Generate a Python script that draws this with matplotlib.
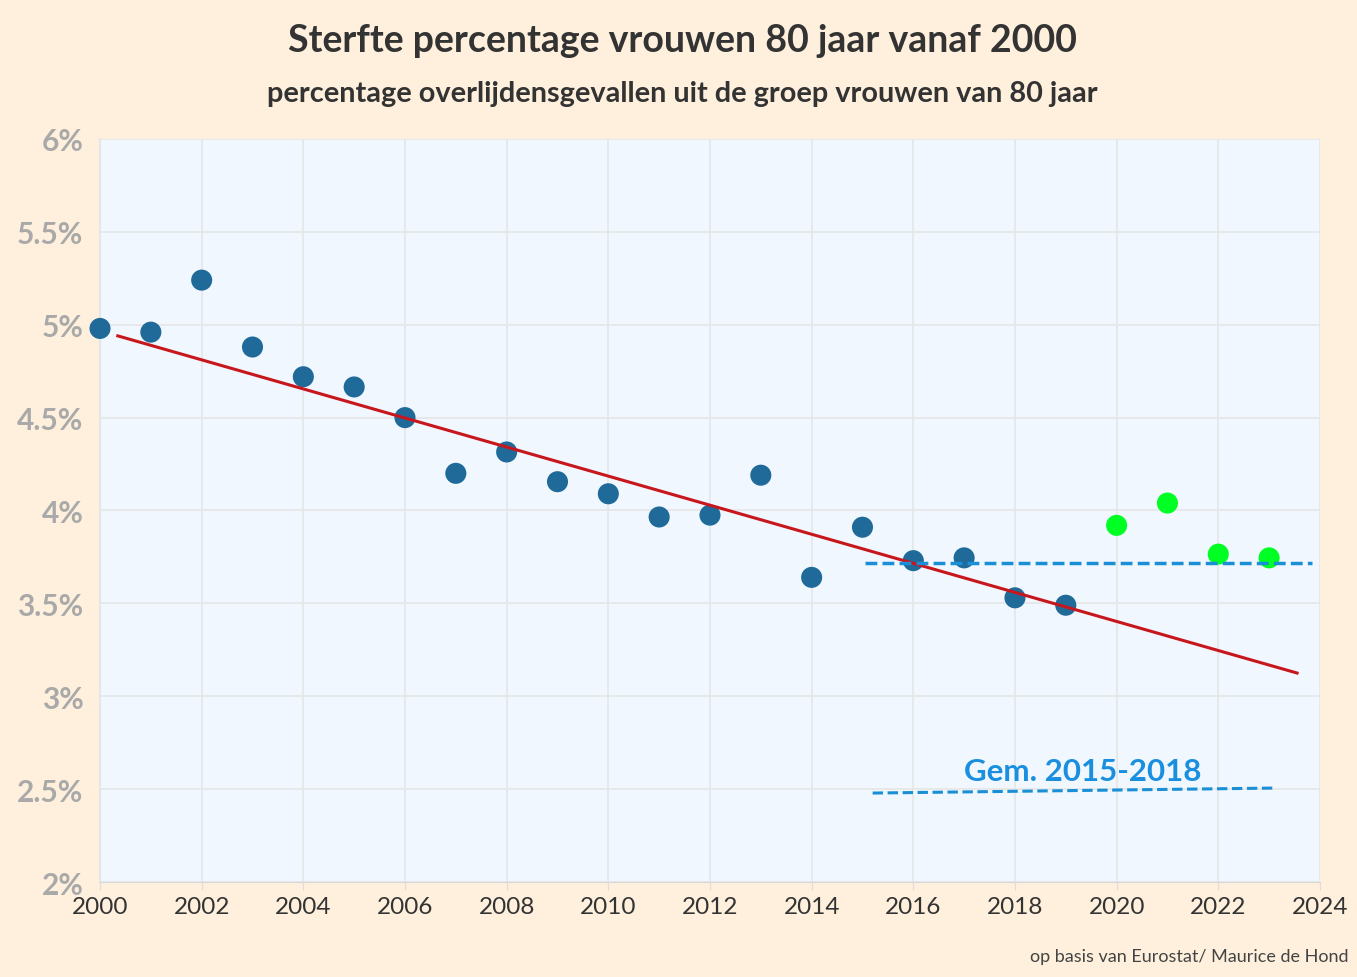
import numpy as np
import matplotlib.pyplot as plt

# data
years_blue = [2000, 2001, 2002, 2003, 2004, 2005, 2006, 2007, 2008, 2009,
              2010, 2011, 2012, 2013, 2014, 2015, 2016, 2017, 2018, 2019]
pct_blue = [4.98, 4.96, 5.24, 4.88, 4.72, 4.665, 4.50, 4.20, 4.315, 4.155,
            4.09, 3.965, 3.975, 4.19, 3.64, 3.91, 3.73, 3.745, 3.53, 3.49]
years_green = [2020, 2021, 2022, 2023]
pct_green = [3.92, 4.04, 3.765, 3.745]

trend_x = [2000.35, 2023.55]
trend_y = [4.94, 3.125]
avg_x = [2015.05, 2023.85]
avg_y = [3.717, 3.717]
legend_x = [2015.2, 2023.15]
legend_y = [2.479, 2.506]

x_ticks = list(range(2000, 2025, 2))
y_ticks = [2, 2.5, 3, 3.5, 4, 4.5, 5, 5.5, 6]
y_labels = ["2%", "2.5%", "3%", "3.5%", "4%", "4.5%", "5%", "5.5%", "6%"]

plt.rcParams['font.family'] = ['Lato', 'DejaVu Sans']

fig = plt.figure(figsize=(13.57, 9.78), dpi=100, facecolor='#FEF0DC')
ax = fig.add_axes([0.0737, 0.0971, 0.8990, 0.7598])
ax.set_facecolor('#F0F7FE')

ax.set_xlim(2000, 2024)
ax.set_ylim(2, 6)
ax.set_xticks(x_ticks)
ax.set_yticks(y_ticks)
ax.set_yticklabels(y_labels)
ax.grid(True, color='#E6E6E6', linewidth=1.2)
ax.set_axisbelow(True)
for s in ax.spines.values():
    s.set_visible(False)
ax.spines['left'].set_visible(True)
ax.spines['left'].set_color('#E6E6E6')
ax.spines['left'].set_linewidth(1.5)
ax.spines['bottom'].set_visible(True)
ax.spines['bottom'].set_color('#D8D8D8')

ax.tick_params(axis='y', length=0, pad=12, labelsize=21.5, labelcolor='#A9A9A9')
for lbl in ax.get_yticklabels():
    lbl.set_fontweight('bold')
ax.tick_params(axis='x', length=6, color='#DDDDDD', pad=4, labelsize=17.5, labelcolor='#333333')

ax.scatter(years_blue, pct_blue, s=230, color='#1F6A99', zorder=3, edgecolors='none', clip_on=False)
ax.scatter(years_green, pct_green, s=230, color='#00FF22', zorder=3, edgecolors='none', clip_on=False)
ax.plot(trend_x, trend_y, color='#C8161D', linewidth=2.2, zorder=4)
ax.plot(avg_x, avg_y, color='#1A8FD6', linewidth=2.5, linestyle=(0, (3.4, 1.5)), zorder=5)
ax.plot(legend_x, legend_y, color='#1A8FD6', linewidth=2.2, linestyle=(0, (3.4, 1.5)), zorder=5)
ax.text(2019.34, 2.60, "Gem. 2015-2018", color='#1A8FE0', fontsize=22.5, fontweight='bold',
        ha='center', va='center')

fig.text(0.503, 0.958, "Sterfte percentage vrouwen 80 jaar vanaf 2000", ha='center', va='center',
         fontsize=27, fontweight='bold', color='#333333')
fig.text(0.503, 0.904, "percentage overlijdensgevallen uit de groep vrouwen van 80 jaar", ha='center',
         va='center', fontsize=20.8, fontweight='bold', color='#333333')
fig.text(0.994, 0.021, "op basis van Eurostat/ Maurice de Hond", ha='right', va='center',
         fontsize=13, color='#444444')

fig.savefig('out.png', dpi=100, facecolor=fig.get_facecolor())
